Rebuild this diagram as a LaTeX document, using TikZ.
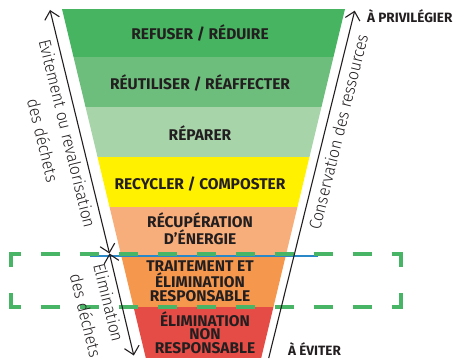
\documentclass[tikz,border=0pt]{standalone}
\usepackage{fontspec}
\setmainfont{Fira Sans}
\newfontfamily\sidefont{Fira Sans Light}[FakeStretch=0.93]
\usetikzlibrary{arrows.meta}

\definecolor{ink}{HTML}{231F20}
\definecolor{lvlone}{HTML}{46B460}
\definecolor{lvltwo}{HTML}{6DBE7C}
\definecolor{lvlthree}{HTML}{A8D4A9}
\definecolor{lvlfour}{HTML}{FFF100}
\definecolor{lvlfive}{HTML}{F8AE7A}
\definecolor{lvlsix}{HTML}{F6974E}
\definecolor{lvlseven}{HTML}{E44C45}
\definecolor{focusgreen}{HTML}{47B565}
\definecolor{markblue}{HTML}{2B88C8}

\tikzset{
  band/.style={font=\bfseries\fontsize{15.5}{13.5}\selectfont, text=ink,
    align=center, inner sep=0pt, anchor=base},
  side/.style={font=\sidefont\fontsize{17}{20}\selectfont, text=ink,
    inner sep=0pt, anchor=base},
  tag/.style={font=\bfseries\fontsize{13.5}{14}\selectfont, text=ink,
    inner sep=0pt, anchor=base west},
  arrowline/.style={draw=ink, line width=1.1pt},
  focusline/.style={draw=focusgreen, line width=3.5pt}
}

\begin{document}
\begin{tikzpicture}[x=1pt, y=-1pt, >={Straight Barb[length=8pt,width=15pt]}]
  \useasboundingbox (0,0) rectangle (454,358);

  % Embudo por niveles
  \begin{scope}
    \clip (62,9) -- (345,9) -- (261.2,358) -- (145.8,358) -- cycle;
    \fill[lvlone] (0,9) rectangle (454,57.5);
    \fill[lvltwo] (0,57.5) rectangle (454,107);
    \fill[lvlthree] (0,107) rectangle (454,157);
    \fill[lvlfour] (0,157) rectangle (454,207);
    \fill[lvlfive] (0,207) rectangle (454,256);
    \fill[lvlsix] (0,256) rectangle (454,307);
    \fill[lvlseven] (0,307) rectangle (454,358);
  \end{scope}

  % Textos de los niveles (base = ultima linea)
  \node[band] (refuser) at (200,39.5) {REFUSER / RÉDUIRE};
  \node[band] (reutiliser) at (200,90) {RÉUTILISER / RÉAFFECTER};
  \node[band] (reparer) at (200,140) {RÉPARER};
  \node[band] (recycler) at (200,189.5) {RECYCLER / COMPOSTER};
  \node[band] (recuperation) at (200,244) {RÉCUPÉRATION\\D’ÉNERGIE};
  \node[band] (traitement) at (200,301) {TRAITEMENT ET\\ÉLIMINATION\\RESPONSABLE};
  \node[band] (elimination) at (205,353.3) {ÉLIMINATION\\NON\\RESPONSABLE};

  % Linea azul y marco punteado
  \draw[markblue, line width=2.6pt] (90,256) -- (318,256);
  \draw[focusline, dash pattern=on 19pt off 20pt, dash phase=9.3pt]
    (11,254) -- (401,254) (11,307) -- (401,307);
  \draw[focusline, line cap=rect, dash pattern=on 11pt off 29.6pt on 12.4pt off 50pt]
    (11,254) -- (11,307) (401,254) -- (401,307);

  % Flechas laterales
  \coordinate (avoidtop) at (50,10);
  \coordinate (split) at (109.5,253.5);
  \coordinate (avoidbot) at (133.8,355.5);
  \coordinate (resbot) at (268.7,358);
  \coordinate (restop) at (354.7,10.7);
  \draw[arrowline, <->] (avoidtop) -- (split);
  \draw[arrowline, <->] (split) -- (avoidbot);
  \draw[arrowline, ->] (resbot) -- (restop);

  \node[side, rotate=-76.3] (evitement) at (61.4,135) {Evitement ou revalorisation};
  \node[side, rotate=-76.3] (evitdechets) at (36.9,142) {des déchets};
  \node[side, rotate=-76.3] (elim) at (102.7,304) {Elimination};
  \node[side, rotate=-76.3] (elimdechets) at (79.8,317) {des déchets};
  \node[side, rotate=76.1] (conservation) at (344.3,133.5) {Conservation des ressources};

  % Extremos
  \node[tag] (privilegier) at (367,22.7) {À PRIVILÉGIER};
  \node[tag] (eviter) at (288,355) {À ÉVITER};
\end{tikzpicture}
\end{document}
